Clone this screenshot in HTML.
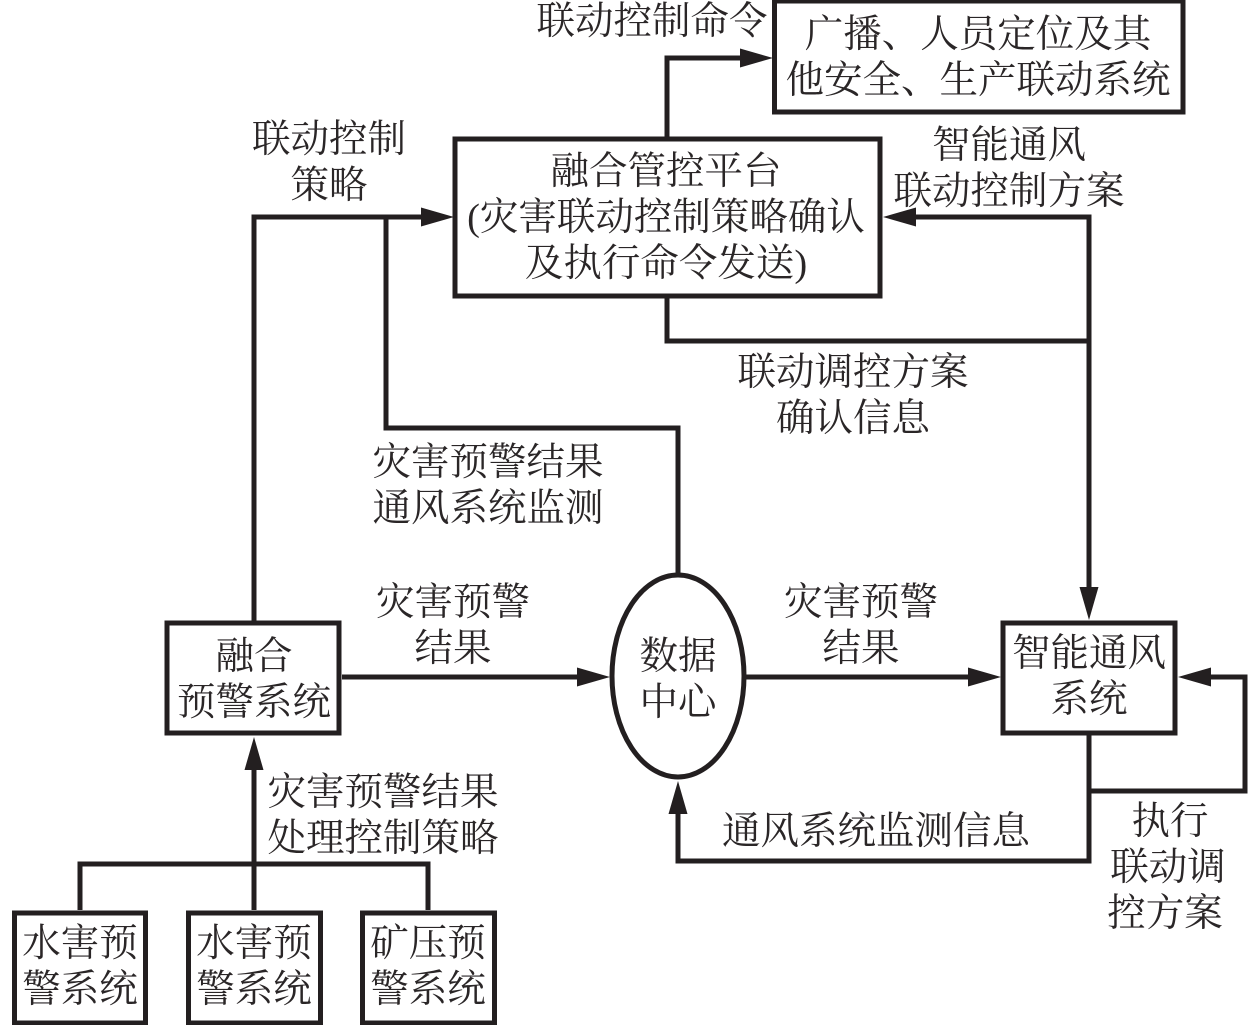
<!DOCTYPE html>
<html><head><meta charset="utf-8"><style>
html,body{margin:0;padding:0;background:#fff;width:1260px;height:1025px;overflow:hidden}
svg{display:block}
text{font-family:"Liberation Serif","Noto Serif CJK SC",serif;font-size:38.5px;fill:#2a2627;text-anchor:middle}
.b{fill:#fff;stroke:#231f20;stroke-width:5}
.l{fill:none;stroke:#231f20;stroke-width:5}
.a{fill:#231f20;stroke:none}
</style></head><body>
<svg width="1260" height="1025" viewBox="0 0 1260 1025" xmlns="http://www.w3.org/2000/svg">
<rect class="b" x="774.500" y="1" width="408.500" height="111"/>
<rect class="b" x="455" y="139" width="425" height="157"/>
<rect class="b" x="167" y="623" width="172" height="110"/>
<rect class="b" x="1003" y="623" width="172" height="110"/>
<rect class="b" x="14.500" y="913" width="131" height="110"/>
<rect class="b" x="188.500" y="913" width="132" height="110"/>
<rect class="b" x="362.500" y="913" width="132" height="110"/>
<ellipse class="b" cx="678" cy="676" rx="66" ry="101"/>
<path class="l" d="M667 137V58H745"/>
<path class="l" d="M254 621V217H425"/>
<path class="l" d="M386 217V428H678V573"/>
<path class="l" d="M910 217H1089V590"/>
<path class="l" d="M667 298V341H1089"/>
<path class="l" d="M342 677H582"/>
<path class="l" d="M746 677H975"/>
<path class="l" d="M254 765V910"/>
<path class="l" d="M80 910V864H428V910"/>
<path class="l" d="M1089 735V861H678V808"/>
<path class="l" d="M1089 791H1245V677H1205"/>
<polygon class="a" points="773,58 740,48.500 740,67.500"/>
<polygon class="a" points="454,217 421,207.500 421,226.500"/>
<polygon class="a" points="883,217 916,207.500 916,226.500"/>
<polygon class="a" points="1089,620 1079.500,587 1098.500,587"/>
<polygon class="a" points="610,677 577,667.500 577,686.500"/>
<polygon class="a" points="1001,677 968,667.500 968,686.500"/>
<polygon class="a" points="1178,677 1211,667.500 1211,686.500"/>
<polygon class="a" points="254,737 244.500,770 263.500,770"/>
<polygon class="a" points="678,781 668.500,814 687.500,814"/>
<text x="652" y="34">联动控制命令</text>
<text x="978" y="47">广播、人员定位及其</text>
<text x="978" y="93">他安全、生产联动系统</text>
<text x="329" y="152">联动控制</text>
<text x="329" y="198">策略</text>
<text x="666" y="184">融合管控平台</text>
<text x="666" y="230">(灾害联动控制策略确认</text>
<text x="666" y="276">及执行命令发送)</text>
<text x="1009" y="158">智能通风</text>
<text x="1009" y="204">联动控制方案</text>
<text x="853" y="385">联动调控方案</text>
<text x="853" y="431">确认信息</text>
<text x="488" y="475">灾害预警结果</text>
<text x="488" y="521">通风系统监测</text>
<text x="453" y="615">灾害预警</text>
<text x="453" y="661">结果</text>
<text x="861" y="615">灾害预警</text>
<text x="861" y="661">结果</text>
<text x="678" y="669">数据</text>
<text x="678" y="715">中心</text>
<text x="254" y="669">融合</text>
<text x="254" y="715">预警系统</text>
<text x="1089" y="666">智能通风</text>
<text x="1089" y="712">系统</text>
<text x="383" y="805">灾害预警结果</text>
<text x="383" y="851">处理控制策略</text>
<text x="876" y="844">通风系统监测信息</text>
<text x="1170" y="834">执行</text>
<text x="1168" y="880">联动调</text>
<text x="1165" y="926">控方案</text>
<text x="80" y="956">水害预</text>
<text x="80" y="1002">警系统</text>
<text x="254" y="956">水害预</text>
<text x="254" y="1002">警系统</text>
<text x="428" y="956">矿压预</text>
<text x="428" y="1002">警系统</text>
</svg>
</body></html>
